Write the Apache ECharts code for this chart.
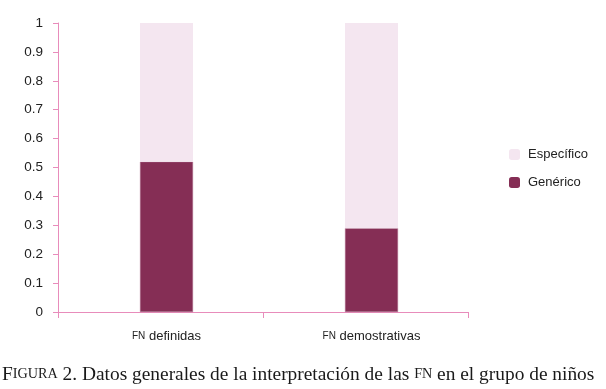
<!DOCTYPE html>
<html><head><meta charset="utf-8">
<script src="https://cdn.jsdelivr.net/npm/echarts@6/dist/echarts.min.js"></script>
<style>html,body{margin:0;padding:0;background:#fff}#c{width:606px;height:389px}</style>
</head><body><div id="c"></div>
<script>
const categories = ['FN definidas', 'FN demostrativas'];
const generico = [0.52, 0.29];
const especifico = [0.48, 0.71];
const yTicks = [0, 0.1, 0.2, 0.3, 0.4, 0.5, 0.6, 0.7, 0.8, 0.9, 1];

const axisColor = '#E88CBB';
const sans = '"Liberation Sans", sans-serif';
const chart = echarts.init(document.getElementById('c'));
chart.setOption({
  animation: false,
  title: {
    left: 0, top: 365, padding: [0, 0, 0, 2],
    text: '{a|F}{b|IGURA}{a| 2. Datos generales de la interpretación de las }{b|FN}{a| en el grupo de niños}',
    textStyle: {
      fontWeight: 'normal',
      rich: {
        a: {fontFamily: '"Liberation Serif", serif', fontSize: 19.4, fontWeight: 'normal', color: '#1a1a1a'},
        b: {fontFamily: '"Liberation Serif", serif', fontSize: 14.2, fontWeight: 'normal', color: '#1a1a1a'}
      }
    }
  },
  legend: {
    orient: 'vertical', left: 509, top: 148, padding: 0,
    itemWidth: 11, itemHeight: 11, itemGap: 15,
    data: ['Específico', 'Genérico'],
    itemStyle: {borderWidth: 0},
    textStyle: {fontFamily: sans, fontSize: 13, color: '#222', padding: [0, 0, 0, 3]}
  },
  grid: [
    {left: 58, right: 138, top: 23, bottom: 77},
    {left: 64, right: 132, top: 23, bottom: 77}
  ],
  xAxis: [
    {gridIndex: 0, type: 'category', data: categories,
     axisLine: {lineStyle: {color: axisColor, width: 1}},
     axisTick: {show: true, length: 6, lineStyle: {color: axisColor}},
     axisLabel: {show: false}},
    {gridIndex: 1, type: 'category', data: categories,
     axisLine: {show: false}, axisTick: {show: false},
     axisLabel: {
       margin: 18,
       formatter: v => '{s|FN}{n|' + v.replace('FN', '') + '}',
       rich: {
         s: {fontFamily: sans, fontSize: 10, color: '#222'},
         n: {fontFamily: sans, fontSize: 13, color: '#222'}
       }
     }}
  ],
  yAxis: [
    {gridIndex: 0, type: 'value', min: 0, max: 1, interval: 0.1,
     axisLine: {show: true, lineStyle: {color: axisColor, width: 1}},
     axisTick: {show: true, length: 5, lineStyle: {color: axisColor}},
     splitLine: {show: false},
     axisLabel: {margin: 15, fontFamily: sans, fontSize: 13.5, color: '#222',
       formatter: v => { const t = yTicks.find(x => Math.abs(x - v) < 1e-6); return t === undefined ? '' : String(t); }}},
    {gridIndex: 1, type: 'value', min: 0, max: 1, show: false}
  ],
  series: [
    {name: 'Genérico', type: 'bar', stack: 's', xAxisIndex: 1, yAxisIndex: 1,
     barWidth: 53, data: generico,
     itemStyle: {color: '#852E55', borderColor: '#B07090', borderWidth: 0.5}},
    {name: 'Específico', type: 'bar', stack: 's', xAxisIndex: 1, yAxisIndex: 1,
     barWidth: 53, data: especifico,
     itemStyle: {color: '#F4E6F0'}}
  ]
});
</script></body></html>
